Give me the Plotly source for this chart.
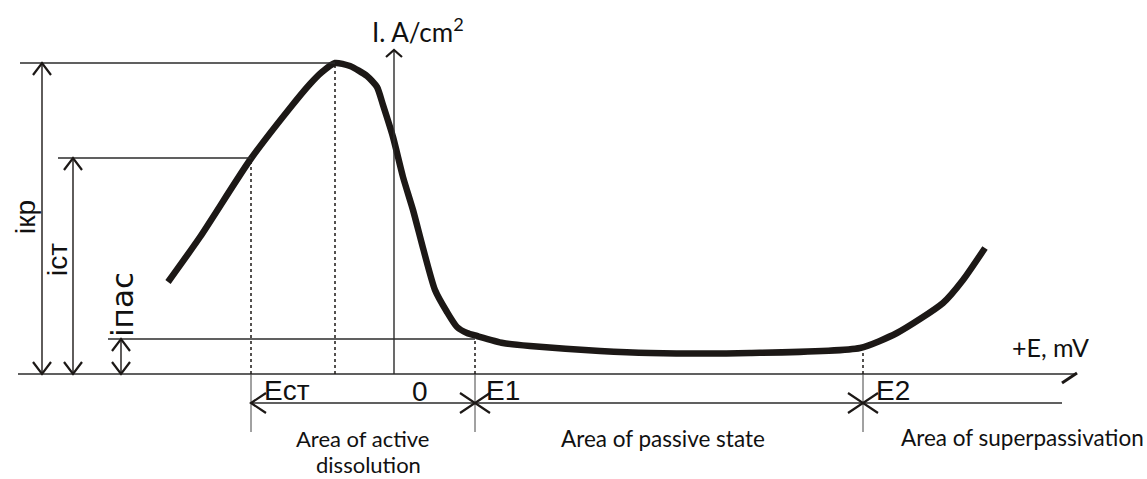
import plotly.graph_objects as go

# ---- data (E relative to origin, I relative to baseline; schematic units) ----
E_curve = [-226, -194, -144, -104, -84, -72, -59, -44, -27, -17, -11, -1, 9, 19, 29, 41, 53, 63, 73, 83,
           109, 136, 206, 256, 356, 466, 503, 549, 569, 591]
I_curve = [92, 137, 214, 266, 290, 302, 311, 308, 298, 287, 269, 237, 197, 164, 126, 84, 62, 47, 41, 38,
           31, 28, 23, 21, 21, 26, 41, 71, 94, 126]

E_st, E_kr, E1, E2 = -143, -59, 81, 469
i_kr, i_st, i_pas = 311, 216, 35
I_at_E1, I_at_E2 = 35, 26

E_labels = ["Eст", "0", "E1", "E2"]
i_labels = ["iкр", "iст", "iпас"]
area_labels = ["Area of active", "dissolution", "Area of passive state", "Area of superpassivation"]
x_title = "+E, mV"
y_title = "I. A/cm<sup>2</sup>"

# ---- geometry of the drawing frame ----
X_MIN, X_MAX = -394, 753
Y_MIN, Y_MAX = -105, 374
LINE = "#2b2b2b"
INK = "#1c1816"

fig = go.Figure()
fig.add_trace(go.Scatter(x=E_curve, y=I_curve, mode="lines",
                         line=dict(color=INK, width=6.5, shape="spline", smoothing=0.6),
                         hoverinfo="skip", showlegend=False))

shapes = []


def seg(x0, y0, x1, y1, width=1.3, dash="solid", color=LINE):
    shapes.append(dict(type="line", x0=x0, y0=y0, x1=x1, y1=y1, xref="x", yref="y",
                       line=dict(color=color, width=width, dash=dash)))


def chevron(x, y, dx, dy, horizontal=False, width=2.2):
    # open arrowhead with tip at (x, y)
    if horizontal:
        p = f"M {x+dx} {y+dy} L {x} {y} L {x+dx} {y-dy}"
    else:
        p = f"M {x-dx} {y+dy} L {x} {y} L {x+dx} {y+dy}"
    shapes.append(dict(type="path", path=p, xref="x", yref="y",
                       line=dict(color=INK, width=width)))


# baseline (E axis) and I axis
seg(-376, 0, 683, 0, width=1.6)
shapes.append(dict(type="path", path="M 668 -9 L 683 1", xref="x", yref="y", line=dict(color=INK, width=3)))
seg(0, 0, 0, 324, width=1.4)
chevron(0, 324, 8, -7)

# horizontal current levels
seg(-374, i_kr, E_kr, i_kr)
seg(-336, i_st, E_st, i_st)
seg(-286, i_pas, E1, i_pas)

# dotted projections
seg(E_st, 0, E_st, i_st, width=1.5, dash="dot", color=INK)
seg(E_kr, 0, E_kr, i_kr, width=1.5, dash="dot", color=INK)
seg(E1, 0, E1, I_at_E1, width=1.5, dash="dot", color=INK)
seg(E2, 0, E2, I_at_E2, width=1.5, dash="dot", color=INK)

# thin region boundaries under the axis
for e in (E_st, E1, E2):
    seg(e, 0, e, -58, width=1.0, color="#444444")

# region dimension line
seg(E_st, -29, 668, -29, width=1.3)
chevron(E_st, -29, 15, 10, horizontal=True)
for e in (E1, E2):
    chevron(e, -29, -15, 10, horizontal=True)
    chevron(e, -29, 15, 10, horizontal=True)

# vertical dimension arrows for currents
for xd, top in ((-352, i_kr), (-321, i_st), (-273, i_pas)):
    seg(xd, 0, xd, top, width=1.4, color=INK)
    chevron(xd, top, 9, -12)
    chevron(xd, 0, 9, 12)

fig.update_layout(shapes=shapes)

ann = []
ARIAL = "Liberation Sans, Arial, sans-serif"
SOFT = "Lato, Open Sans, sans-serif"


def text(x, y, s, size, font=ARIAL, xanchor="center", angle=0):
    ann.append(dict(x=x, y=y, xref="x", yref="y", text=s, showarrow=False, xanchor=xanchor,
                    yanchor="middle", textangle=angle, borderpad=0,
                    font=dict(family=font, size=size, color="#111111")))


text(24, 344, y_title, 26, SOFT)
text(656, 27, x_title, 25, SOFT)
text(-131, -16, E_labels[0], 28, xanchor="left")
text(26, -17, E_labels[1], 28)
text(91, -16, E_labels[2], 28, xanchor="left")
text(481, -16, E_labels[3], 28, xanchor="left")
text(-369, 157, i_labels[0], 28, angle=-90)
text(-337, 114, i_labels[1], 28, angle=-90)
text(-272, 69, i_labels[2], 31, font="DejaVu Sans, sans-serif", angle=-90)
text(-32, -64, area_labels[0], 22, SOFT)
text(-26, -90, area_labels[1], 22, SOFT)
text(269, -64, area_labels[2], 22.5, SOFT)
text(628, -63, area_labels[3], 22.5, SOFT)

fig.update_layout(
    annotations=ann,
    width=1147, height=479,
    margin=dict(l=0, r=0, t=0, b=0),
    paper_bgcolor="white", plot_bgcolor="white",
    xaxis=dict(range=[X_MIN, X_MAX], visible=False, fixedrange=True),
    yaxis=dict(range=[Y_MIN, Y_MAX], visible=False, fixedrange=True),
    showlegend=False,
)

fig.write_html("out.html", config={"displayModeBar": False},
               post_script="document.body.style.margin='0';document.body.style.overflow='hidden';")
